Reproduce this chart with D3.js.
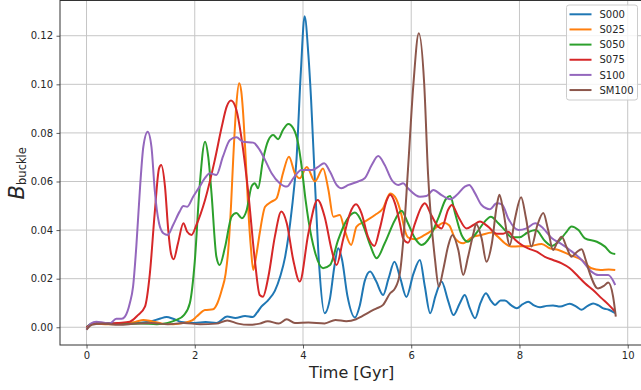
<!DOCTYPE html>
<html>
<head>
<meta charset="utf-8">
<script src="https://cdn.jsdelivr.net/npm/d3@7"></script>
<style>
  html, body { margin: 0; padding: 0; background: #fff; }
  svg { display: block; font-family: "DejaVu Sans", sans-serif; }
</style>
</head>
<body>
<svg id="chart" width="641" height="390"></svg>
<script>
// Bar buckling strength over time for each simulation
const seriesNames = ["S000", "S025", "S050", "S075", "S100", "SM100"];
const seriesColors = ["#1f77b4", "#ff7f0e", "#2ca02c", "#d62728", "#9467bd", "#8c564b"];

const tS000 = [0.0,0.1,0.3,0.6,0.9,1.2,1.35,1.48,1.6,1.75,2.0,2.2,2.4,2.6,2.75,2.93,3.07,3.15,3.23,3.35,3.48,3.58,3.67,3.79,3.88,3.96,4.03,4.1,4.15,4.22,4.3,4.4,4.5,4.58,4.65,4.72,4.82,4.96,5.05,5.14,5.24,5.35,5.48,5.58,5.69,5.8,5.91,6.04,6.16,6.25,6.35,6.45,6.56,6.68,6.78,6.9,6.99,7.08,7.18,7.28,7.38,7.47,7.55,7.65,7.73,7.85,7.95,8.06,8.16,8.27,8.38,8.5,8.62,8.75,8.93,9.05,9.15,9.26,9.36,9.46,9.55,9.65,9.77];
const vS000 = [0.0,0.0015,0.0018,0.0015,0.0017,0.0025,0.0035,0.0042,0.0035,0.0022,0.0018,0.0022,0.0018,0.0044,0.0038,0.0046,0.0042,0.006,0.0085,0.011,0.015,0.021,0.029,0.048,0.069,0.105,0.128,0.112,0.0935,0.06,0.025,0.0058,0.012,0.025,0.0325,0.028,0.013,0.004,0.009,0.019,0.023,0.019,0.0133,0.02,0.027,0.02,0.0125,0.022,0.0277,0.017,0.0058,0.013,0.0188,0.011,0.005,0.010,0.0133,0.008,0.0037,0.010,0.014,0.011,0.0092,0.011,0.011,0.009,0.0078,0.0095,0.0105,0.009,0.0082,0.0088,0.009,0.0085,0.0097,0.0085,0.0072,0.0088,0.0098,0.009,0.0078,0.0072,0.0058];

const tS025 = [0.0,0.15,0.4,0.7,0.9,1.05,1.2,1.4,1.6,1.8,1.95,2.04,2.19,2.34,2.42,2.5,2.57,2.62,2.67,2.71,2.77,2.82,2.86,2.89,2.94,2.99,3.04,3.08,3.14,3.2,3.3,3.42,3.51,3.63,3.74,3.85,3.94,4.07,4.22,4.37,4.47,4.56,4.68,4.77,4.89,4.99,5.14,5.33,5.48,5.61,5.7,5.82,5.88,5.94,6.07,6.25,6.44,6.6,6.7,6.81,6.96,7.12,7.3,7.49,7.6,7.73,7.85,8.0,8.16,8.41,8.56,8.72,8.93,9.15,9.33,9.5,9.65,9.77];
const vS025 = [0.0,0.0015,0.0012,0.0018,0.0022,0.003,0.0025,0.0015,0.0012,0.0018,0.0028,0.0045,0.0071,0.0074,0.010,0.0154,0.022,0.032,0.05,0.069,0.092,0.1004,0.097,0.0894,0.07,0.048,0.032,0.0236,0.030,0.0387,0.0496,0.0517,0.053,0.0634,0.0702,0.0634,0.0613,0.066,0.06,0.0654,0.0565,0.0455,0.0462,0.04,0.0339,0.0414,0.0435,0.0462,0.049,0.0551,0.0537,0.0462,0.04,0.037,0.0362,0.038,0.0407,0.043,0.042,0.0366,0.0346,0.037,0.038,0.039,0.0373,0.0346,0.0332,0.0333,0.0333,0.0343,0.0325,0.0318,0.0298,0.0277,0.0243,0.0236,0.0238,0.0236];

const tS050 = [0.0,0.15,0.4,0.7,1.0,1.3,1.5,1.66,1.8,1.91,2.0,2.09,2.19,2.25,2.31,2.4,2.46,2.56,2.68,2.77,2.87,2.96,3.05,3.11,3.17,3.26,3.36,3.45,3.54,3.63,3.73,3.82,3.91,3.97,4.05,4.1,4.22,4.37,4.5,4.65,4.81,4.96,5.11,5.24,5.36,5.51,5.7,5.82,5.94,6.07,6.19,6.35,6.5,6.65,6.72,6.81,6.93,7.05,7.2,7.36,7.47,7.61,7.73,7.86,8.0,8.15,8.3,8.47,8.6,8.75,8.87,8.96,9.09,9.21,9.43,9.58,9.7,9.77];
const vS050 = [0.0,0.0018,0.0015,0.0013,0.0016,0.0012,0.0018,0.003,0.005,0.01,0.027,0.058,0.0764,0.07,0.055,0.029,0.0256,0.033,0.0455,0.047,0.0449,0.0483,0.058,0.0593,0.0572,0.0688,0.077,0.0791,0.0774,0.0812,0.0837,0.0819,0.0757,0.067,0.052,0.0442,0.0311,0.0243,0.0256,0.036,0.0442,0.0472,0.0421,0.0339,0.0284,0.0346,0.0442,0.048,0.0428,0.0366,0.0339,0.0373,0.0449,0.0531,0.054,0.0469,0.038,0.0352,0.0387,0.0435,0.0455,0.0428,0.04,0.037,0.037,0.039,0.040,0.0355,0.0335,0.036,0.0393,0.0415,0.040,0.0366,0.0352,0.0332,0.0305,0.0302];

const tS075 = [0.0,0.15,0.4,0.6,0.8,0.95,1.08,1.17,1.26,1.34,1.38,1.45,1.51,1.56,1.61,1.69,1.79,1.86,1.94,2.03,2.19,2.37,2.5,2.59,2.67,2.77,2.86,2.99,3.11,3.2,3.26,3.36,3.48,3.6,3.7,3.82,3.94,4.1,4.27,4.4,4.53,4.62,4.74,4.87,4.98,5.08,5.2,5.32,5.42,5.55,5.61,5.7,5.79,5.85,5.94,6.07,6.19,6.25,6.37,6.5,6.56,6.68,6.75,6.87,7.02,7.15,7.27,7.42,7.58,7.7,7.79,7.92,8.04,8.16,8.32,8.47,8.62,8.78,8.93,9.09,9.21,9.36,9.52,9.65,9.77];
const vS075 = [0.0,0.0015,0.0015,0.0018,0.0023,0.005,0.0085,0.022,0.047,0.0654,0.0668,0.0579,0.04,0.0305,0.028,0.0346,0.0428,0.0393,0.038,0.0421,0.0524,0.0688,0.0826,0.0908,0.0933,0.0894,0.0784,0.0551,0.0277,0.0133,0.0126,0.0208,0.0373,0.0476,0.0428,0.0277,0.0188,0.0387,0.0524,0.0455,0.0318,0.0256,0.036,0.047,0.0506,0.047,0.0373,0.0335,0.0407,0.0524,0.0545,0.051,0.0428,0.0366,0.0348,0.0428,0.0496,0.051,0.0462,0.0414,0.0407,0.0483,0.0503,0.0455,0.0407,0.0421,0.0435,0.0414,0.0385,0.0385,0.0393,0.036,0.0339,0.0325,0.0311,0.029,0.0277,0.0263,0.0243,0.0208,0.0181,0.0153,0.0119,0.0092,0.0064];

const tS100 = [0.0,0.08,0.18,0.3,0.43,0.55,0.65,0.71,0.8,0.86,0.92,0.99,1.05,1.13,1.2,1.26,1.34,1.42,1.5,1.6,1.72,1.79,1.86,1.97,2.09,2.19,2.28,2.4,2.52,2.65,2.77,2.89,3.08,3.2,3.3,3.42,3.57,3.7,3.82,3.97,4.16,4.28,4.39,4.5,4.62,4.71,4.84,5.02,5.14,5.27,5.39,5.51,5.64,5.76,5.85,5.94,6.16,6.28,6.41,6.56,6.72,6.84,6.99,7.07,7.18,7.3,7.45,7.58,7.68,7.79,7.98,8.13,8.29,8.44,8.6,8.75,8.93,9.15,9.33,9.46,9.64,9.77];
const vS100 = [-0.001,0.0015,0.0023,0.002,0.0015,0.0035,0.0035,0.0044,0.0099,0.0167,0.0332,0.0579,0.0743,0.0805,0.0743,0.0565,0.0428,0.0387,0.038,0.0421,0.0476,0.0499,0.0496,0.0537,0.0579,0.0615,0.0634,0.0627,0.0702,0.0771,0.0782,0.0764,0.076,0.073,0.0688,0.0634,0.0593,0.0579,0.0613,0.0647,0.0647,0.066,0.0675,0.064,0.0586,0.0572,0.0586,0.06,0.0613,0.0668,0.0705,0.0668,0.0606,0.0586,0.0593,0.0572,0.0537,0.054,0.0565,0.0544,0.0527,0.0544,0.0579,0.0586,0.0551,0.0503,0.0486,0.051,0.0505,0.0449,0.04,0.0407,0.0428,0.0407,0.0366,0.0346,0.0318,0.0277,0.0229,0.0215,0.0215,0.0174];

const tSM100 = [0.0,0.1,0.3,0.6,0.9,1.2,1.5,1.8,2.1,2.4,2.6,2.8,3.0,3.2,3.35,3.55,3.7,3.85,4.1,4.4,4.6,4.8,4.98,5.08,5.24,5.36,5.48,5.61,5.7,5.79,5.85,5.94,6.04,6.14,6.24,6.31,6.44,6.51,6.59,6.68,6.76,6.87,6.96,7.05,7.15,7.2,7.3,7.39,7.49,7.58,7.63,7.7,7.82,7.92,8.03,8.12,8.22,8.33,8.44,8.53,8.62,8.7,8.78,8.87,8.96,9.06,9.15,9.22,9.3,9.45,9.56,9.64,9.73,9.78];
const vSM100 = [-0.001,0.001,0.0015,0.001,0.0015,0.0018,0.0012,0.0018,0.0012,0.0015,0.0028,0.0015,0.001,0.0015,0.0025,0.0015,0.0033,0.0018,0.002,0.0016,0.003,0.0025,0.0033,0.0044,0.0064,0.0078,0.0092,0.014,0.016,0.0222,0.035,0.065,0.1,0.121,0.1,0.0634,0.0277,0.0167,0.0236,0.0332,0.038,0.0318,0.0215,0.029,0.0387,0.0425,0.0366,0.027,0.0346,0.05,0.0545,0.048,0.0339,0.045,0.0535,0.045,0.0332,0.042,0.047,0.04,0.0318,0.035,0.0373,0.033,0.029,0.031,0.0321,0.028,0.0222,0.016,0.017,0.0184,0.0126,0.0044];

const xTicks = [0, 2, 4, 6, 8, 10];
const yTicks = [0.00, 0.02, 0.04, 0.06, 0.08, 0.10, 0.12];

const series = [
  { name: seriesNames[0], t: tS000, v: vS000 },
  { name: seriesNames[1], t: tS025, v: vS025 },
  { name: seriesNames[2], t: tS050, v: vS050 },
  { name: seriesNames[3], t: tS075, v: vS075 },
  { name: seriesNames[4], t: tS100, v: vS100 },
  { name: seriesNames[5], t: tSM100, v: vSM100 }
];

const plot = { left: 60, right: 643.4, top: 0.5, bottom: 345 };

const x = d3.scaleLinear().domain([-0.49, 10.29]).range([plot.left, plot.right]);
const y = d3.scaleLinear().domain([-0.0073, 0.1345]).range([plot.bottom, plot.top]);
const color = d3.scaleOrdinal().domain(seriesNames).range(seriesColors);

const svg = d3.select("#chart");

// grid
const grid = svg.append("g").attr("stroke", "#c6c6c6").attr("stroke-width", 1);
grid.selectAll("line.gx").data(xTicks).join("line")
  .attr("x1", d => x(d)).attr("x2", d => x(d))
  .attr("y1", plot.top).attr("y2", plot.bottom);
grid.selectAll("line.gy").data(yTicks).join("line")
  .attr("x1", plot.left).attr("x2", plot.right)
  .attr("y1", d => y(d)).attr("y2", d => y(d));

// lines
svg.append("clipPath").attr("id", "plotclip").append("rect")
  .attr("x", plot.left).attr("y", plot.top)
  .attr("width", plot.right - plot.left).attr("height", plot.bottom - plot.top);

const line = d3.line()
  .x(d => x(d[0])).y(d => y(d[1]))
  .curve(d3.curveMonotoneX);

svg.append("g").attr("clip-path", "url(#plotclip)")
  .selectAll("path").data(series).join("path")
  .attr("fill", "none")
  .attr("stroke", d => color(d.name))
  .attr("stroke-width", 2)
  .attr("stroke-linejoin", "round")
  .attr("d", d => line(d.t.map((t, i) => [t, d.v[i]])));

// axes
const xAxis = svg.append("g").attr("transform", `translate(0,${plot.bottom})`)
  .call(d3.axisBottom(x).tickValues(xTicks).tickFormat(d3.format("d")).tickSizeOuter(0).tickSize(3.5).tickPadding(3.5));
const yAxis = svg.append("g").attr("transform", `translate(${plot.left},0)`)
  .call(d3.axisLeft(y).tickValues(yTicks).tickFormat(d3.format(".2f")).tickSizeOuter(0).tickSize(3.5).tickPadding(3.5));
[xAxis, yAxis].forEach(a => {
  a.select(".domain").remove();
  a.selectAll(".tick line").attr("stroke", "#333").attr("stroke-width", 0.8);
  a.selectAll(".tick text").attr("fill", "#262626")
    .style("font-family", "DejaVu Sans").style("font-size", "10px");
});

// frame
svg.append("rect")
  .attr("x", plot.left).attr("y", plot.top)
  .attr("width", plot.right - plot.left).attr("height", plot.bottom - plot.top)
  .attr("fill", "none").attr("stroke", "#333").attr("stroke-width", 1);

// axis labels
svg.append("text")
  .attr("x", (plot.left + plot.right) / 2).attr("y", 378)
  .attr("text-anchor", "middle")
  .attr("fill", "#262626")
  .style("font-size", "16px")
  .text("Time [Gyr]");

const yl = svg.append("text")
  .attr("transform", `translate(24,${(plot.top + plot.bottom) / 2 + 0.5}) rotate(-90)`)
  .attr("text-anchor", "middle")
  .attr("fill", "#262626");
yl.append("tspan").style("font-size", "21px").style("font-style", "italic").text("B");
yl.append("tspan").attr("dy", 1.5).style("font-size", "11.5px").text("buckle");

// legend
const lg = svg.append("g").attr("transform", "translate(566.5,5)");
lg.append("rect")
  .attr("width", 71).attr("height", 95).attr("rx", 2.5)
  .attr("fill", "#fff").attr("fill-opacity", 0.8)
  .attr("stroke", "#cccccc").attr("stroke-width", 1);
const items = lg.selectAll("g.item").data(seriesNames).join("g")
  .attr("transform", (d, i) => `translate(0,${9.3 + i * 15.15})`);
items.append("line")
  .attr("x1", 3).attr("x2", 25)
  .attr("stroke", d => color(d)).attr("stroke-width", 2);
items.append("text")
  .attr("x", 33).attr("y", 3.6)
  .attr("fill", "#262626")
  .style("font-size", "10px")
  .text(d => d);
</script>
</body>
</html>
